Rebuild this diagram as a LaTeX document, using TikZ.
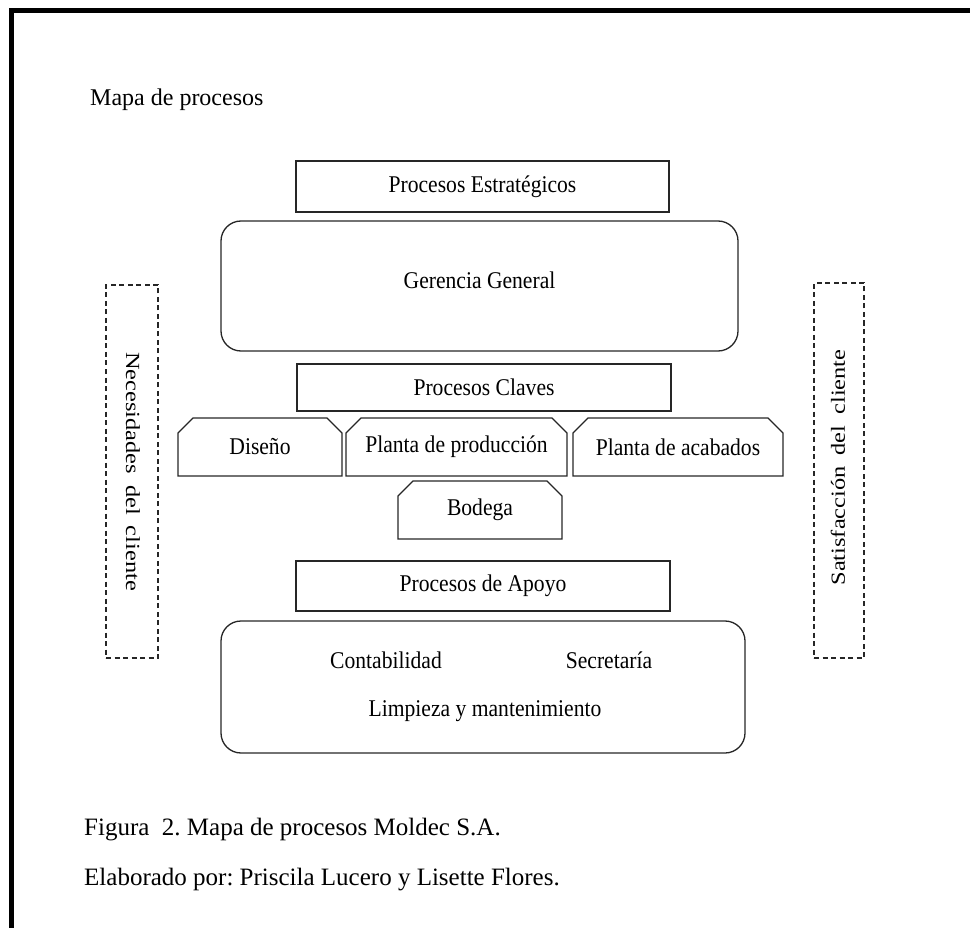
\documentclass[tikz,border=0pt]{standalone}
\usepackage{fontspec}
\setmainfont{Liberation Serif}
\usetikzlibrary{shapes.misc}
\frenchspacing
\newcommand\cnd[1]{\scalebox{0.9}[1]{#1}}
\newcommand\wide[1]{\scalebox{1.22}[1]{#1}}
\begin{document}
\begin{tikzpicture}[x=1pt,y=-1pt,
  boxline/.style={draw=black!85, line width=1.3pt},
  btxt/.style={font=\fontsize{24}{28}\selectfont},
  plainbox/.style={boxline, rectangle, inner sep=0pt, btxt},
  roundbox/.style={boxline, rectangle, rounded corners=20pt, inner sep=0pt, btxt},
  chambox/.style={boxline, chamfered rectangle, chamfered rectangle corners={north west, north east},
     chamfered rectangle xsep=8pt, chamfered rectangle ysep=7pt, inner sep=0pt, btxt},
  dashbox/.style={draw=black!85, line width=1.2pt, dash pattern=on 5pt off 3.5pt, rectangle, inner sep=0pt},
  sidetxt/.style={font=\fontsize{20}{24}\selectfont, inner sep=0pt},
  captxt/.style={font=\fontsize{25}{30}\selectfont, anchor=west, inner sep=0pt}
  ]
\useasboundingbox (0,0) rectangle (970,928);
% frame
\coordinate (fb) at (11,928);
\coordinate (fc) at (11,11);
\coordinate (fr) at (970,11);
\draw[line width=5pt, line cap=rect] (fb) -- (fc) -- (fr);

\node[captxt, font=\fontsize{24}{28}\selectfont] (title) at (90,100) {Mapa de procesos};

\node[plainbox, minimum width=373pt, minimum height=51pt] (pe) at (482.5,186.5) {\cnd{Procesos Estratégicos}};
\node[roundbox, minimum width=517pt, minimum height=130pt] (gg) at (479.5,286) {};
\node[btxt, inner sep=0pt] (ggt) at (479.5,280) {\cnd{Gerencia General}};

\node[plainbox, minimum width=374pt, minimum height=47pt] (pc) at (484,387.5) {\cnd{Procesos Claves}};

\node[chambox, minimum width=164pt, minimum height=58pt] (dis) at (260,447) {\cnd{Diseño}};
\node[chambox, minimum width=221pt, minimum height=58pt] (pp) at (456.5,447) {\cnd{Planta de producción}};
\node[chambox, minimum width=210pt, minimum height=58pt] (pa) at (678,447) {\cnd{Planta de acabados}};
\node[chambox, minimum width=164pt, minimum height=58pt] (bod) at (480,510) {\cnd{Bodega}};

\node[plainbox, minimum width=374pt, minimum height=50pt] (ap) at (483,586) {\cnd{Procesos de Apoyo}};
\node[roundbox, minimum width=524pt, minimum height=132pt] (sup) at (483,687) {};
\node[btxt, inner sep=0pt] (cont) at (386,660) {\cnd{Contabilidad}};
\node[btxt, inner sep=0pt] (sec) at (609,660) {\cnd{Secretaría}};
\node[btxt, inner sep=0pt] (lim) at (485,711) {\cnd{Limpieza y mantenimiento}};

\node[dashbox, minimum width=52pt, minimum height=373pt] (nec) at (132,471.5) {};
\node[sidetxt, rotate=-90] (nect) at (133,471.5) {\wide{Necesidades\hspace{9pt}del\hspace{9pt}cliente}};
\node[dashbox, minimum width=50pt, minimum height=375pt] (sat) at (839,470.5) {};
\node[sidetxt, rotate=90] (satt) at (838,467.5) {\wide{Satisfacción\hspace{9pt}del\hspace{9pt}cliente}};

\node[captxt] (fig) at (84,830) {Figura\ \ 2. Mapa de procesos Moldec S.A.};
\node[captxt] (elab) at (84,880) {Elaborado por: Priscila Lucero y Lisette Flores.};
\end{tikzpicture}
\end{document}
